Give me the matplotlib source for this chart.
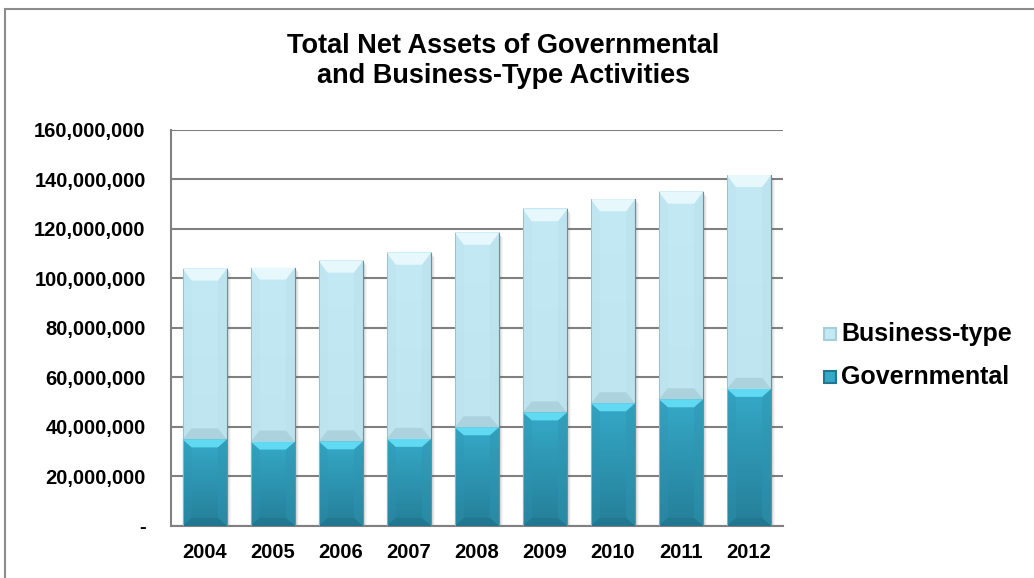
import numpy as np
import matplotlib.pyplot as plt
from matplotlib.colors import LinearSegmentedColormap
from matplotlib.patches import Polygon, Rectangle
from matplotlib.ticker import FuncFormatter

plt.rcParams['font.family'] = ['Liberation Sans', 'DejaVu Sans']

years = ['2004', '2005', '2006', '2007', '2008', '2009', '2010', '2011', '2012']
governmental = [35.0, 34.1, 34.2, 35.2, 39.9, 45.9, 49.6, 51.2, 55.4]   # millions
total = [104.0, 104.4, 107.2, 110.4, 118.5, 128.0, 132.0, 135.1, 141.8]  # millions
business = [t - g for t, g in zip(total, governmental)]

# (face top, face bottom, top bevel, side bevel, bottom bevel)
gov_style = ('#35a9c7', '#257f99', '#5fdaf2', '#2e95b2', '#22768e')
bus_style = ('#c3eaf4', '#bfe6f0', '#e6f8fc', '#b9e0ea', '#a8cfd9')

fig = plt.figure(figsize=(10.34, 5.78), dpi=100)
ax = fig.add_axes([0.1651, 0.0900, 0.5922, 0.6851])

x = np.arange(len(years))
scale = 1e6
gov_vals = np.array(governmental) * scale
bus_vals = np.array(business) * scale

ax.set_xlim(-0.5, len(years) - 0.5)
ax.set_ylim(0, 160e6)

bars_g = ax.bar(x, gov_vals, width=0.65, color=gov_style[0], zorder=3, linewidth=0)
bars_b = ax.bar(x, bus_vals, width=0.65, bottom=gov_vals, color=bus_style[0], zorder=3, linewidth=0)

# bevel and shadow, sized in pixels then mapped back to data units
to_data = ax.transData.inverted()
p0 = to_data.transform((0, 0))
px_x = to_data.transform((1, 0))[0] - p0[0]
px_y = to_data.transform((0, 1))[1] - p0[1]
grad = np.linspace(0, 1, 64).reshape(-1, 1)


def bevel(rect, style, top_px, bot_px):
    face_top, face_bot, top, side, bottom = style
    x0, y0 = rect.get_x(), rect.get_y()
    x1, y1 = x0 + rect.get_width(), y0 + rect.get_height()
    bx = 9 * px_x
    bt = top_px * px_y
    bb = bot_px * px_y
    # drop shadow
    for k, a in [(4, 0.05), (3, 0.07), (2, 0.10)]:
        ax.add_patch(Rectangle((x0 + k * px_x, y0 - k * px_y), x1 - x0, y1 - y0,
                               color='#555555', alpha=a, zorder=2.5, linewidth=0))
    cmap = LinearSegmentedColormap.from_list('f', [face_bot, face_top])
    ax.imshow(grad, cmap=cmap, extent=(x0, x1, y0, y1), origin='lower',
              aspect='auto', zorder=3.2, interpolation='bilinear')
    ax.add_patch(Polygon([(x0, y0), (x0 + bx, y0 + bb), (x0 + bx, y1 - bt), (x0, y1)],
                         closed=True, color=side, alpha=0.3, zorder=4, linewidth=0))
    ax.add_patch(Polygon([(x1, y0), (x1 - bx, y0 + bb), (x1 - bx, y1 - bt), (x1, y1)],
                         closed=True, color=side, alpha=0.45, zorder=4, linewidth=0))
    ax.add_patch(Polygon([(x0, y0), (x1, y0), (x1 - bx, y0 + bb), (x0 + bx, y0 + bb)],
                         closed=True, color=bottom, alpha=0.8, zorder=4, linewidth=0))
    ax.add_patch(Polygon([(x0, y1), (x1, y1), (x1 - bx, y1 - bt), (x0 + bx, y1 - bt)],
                         closed=True, color=top, zorder=4, linewidth=0))
    ax.plot([x1, x1], [y0, y1], color='#6f8f98', lw=0.8, zorder=4.5)
    ax.plot([x0, x0], [y0, y1], color='#9fb8be', lw=0.6, zorder=4.5)


for r in bars_g:
    bevel(r, gov_style, 8, 8)
for r in bars_b:
    bevel(r, bus_style, 12, 11)

ax.set_xlim(-0.5, len(years) - 0.5)
ax.set_ylim(0, 160e6)

ax.set_yticks(np.arange(0, 160e6 + 1, 20e6))
ax.yaxis.set_major_formatter(FuncFormatter(lambda v, p: '-' if v == 0 else f'{v:,.0f}'))
ax.set_xticks(x)
ax.set_xticklabels(years)
ax.tick_params(axis='both', length=0, labelsize=14.5)
ax.tick_params(axis='x', pad=12)
ax.tick_params(axis='y', pad=18)
for lbl in ax.get_xticklabels() + ax.get_yticklabels():
    lbl.set_fontweight('bold')

ax.grid(axis='y', color='#808080', lw=1.5, zorder=1)
for s in ['top', 'right']:
    ax.spines[s].set_visible(False)
ax.spines['left'].set_color('#808080')
ax.spines['bottom'].set_color('#808080')
ax.spines['left'].set_linewidth(1.5)
ax.spines['bottom'].set_linewidth(1.5)

fig.text(0.487, 0.894, 'Total Net Assets of Governmental\nand Business-Type Activities',
         ha='center', va='center', fontsize=19.5, fontweight='bold', linespacing=1.2)

# legend
leg_items = [('Business-type', bus_style, 334), ('Governmental', gov_style, 377)]
for label, style, ypx in leg_items:
    yf = 1 - ypx / 578
    fig.patches.append(Rectangle((824 / 1034, yf - 6 / 578), 12 / 1034, 12 / 578,
                                 transform=fig.transFigure, facecolor=style[0],
                                 edgecolor=style[4], lw=1.5, figure=fig))
    fig.text(841 / 1034, yf, label, ha='left', va='center', fontsize=18, fontweight='bold')

# outer border
fig.patches.append(Rectangle((5 / 1034, -0.1), 1.2, 1.1 - 9 / 578, transform=fig.transFigure,
                             fill=False, edgecolor='#8c8c8c', lw=1.5, figure=fig))

fig.savefig('out.png', dpi=100)
